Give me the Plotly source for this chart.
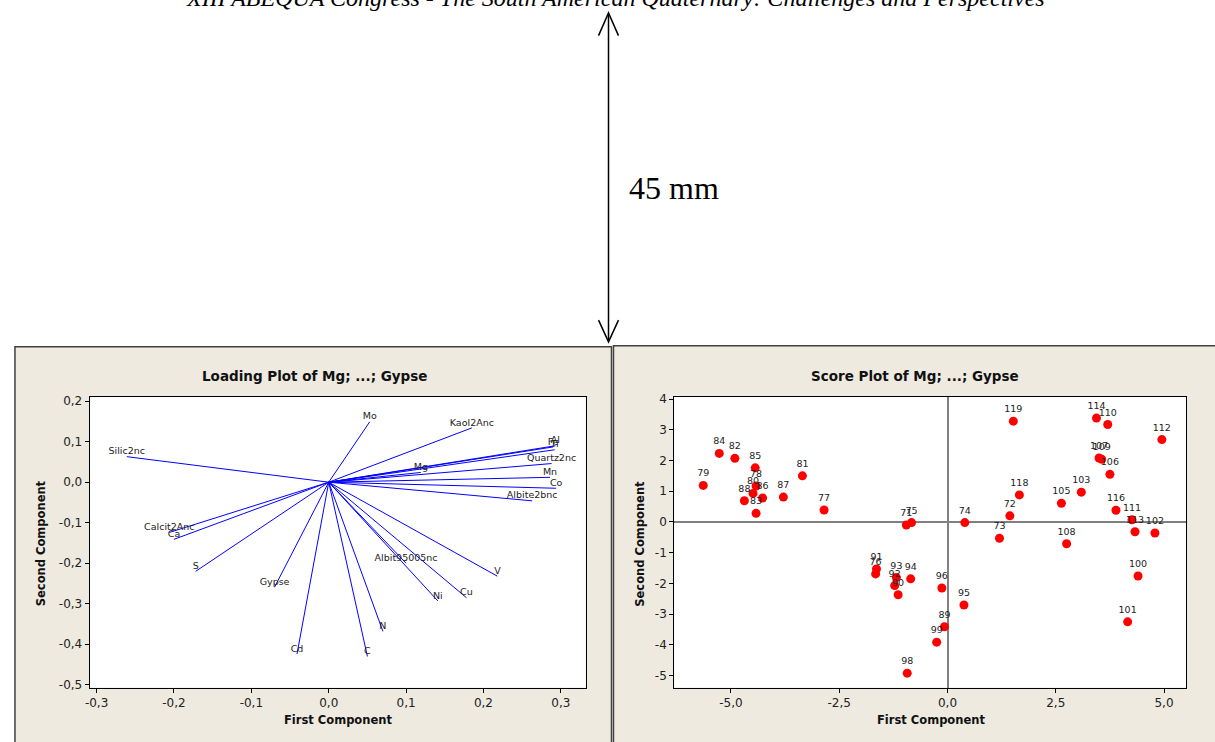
import plotly.graph_objects as go

W, H = 1215, 742

# ---------------- data ----------------
load_vars = ["Silic2nc", "Calcit2Anc", "Ca", "S", "Gypse", "Cd", "C", "N",
             "Albit95005nc", "Ni", "Cu", "V", "Mo", "Kaol2Anc", "Mg",
             "Al", "Fe", "Ti", "Quartz2nc", "Mn", "Co", "Albite2bnc"]
load_pc1 = [-0.261, -0.206, -0.200, -0.172, -0.070, -0.041, 0.050, 0.070,
            0.100, 0.141, 0.178, 0.218, 0.053, 0.185, 0.119,
            0.293, 0.290, 0.292, 0.288, 0.286, 0.294, 0.263]
load_pc2 = [0.063, -0.124, -0.141, -0.220, -0.259, -0.424, -0.430, -0.368,
            -0.200, -0.293, -0.285, -0.232, 0.149, 0.134, 0.024,
            0.090, 0.087, 0.080, 0.046, 0.012, -0.015, -0.046]

score_ids = ["84", "82", "85", "79", "81", "78", "80", "88", "86", "83", "87", "77",
             "71", "75", "74", "73", "91", "76", "93", "92", "90", "94", "96", "95",
             "89", "99", "98", "119", "114", "110", "112", "107", "109", "106",
             "118", "103", "105", "72", "116", "111", "113", "102", "108", "100", "101"]
score_pc1 = [-5.27, -4.91, -4.44, -5.64, -3.35, -4.42, -4.49, -4.69, -4.27, -4.42, -3.79, -2.85,
             -0.95, -0.83, 0.40, 1.20, -1.64, -1.66, -1.18, -1.22, -1.14, -0.85, -0.13, 0.38,
             -0.07, -0.25, -0.93, 1.52, 3.44, 3.70, 4.95, 3.50, 3.56, 3.75,
             1.66, 3.09, 2.63, 1.44, 3.89, 4.26, 4.33, 4.79, 2.75, 4.40, 4.16]
score_pc2 = [2.23, 2.07, 1.76, 1.19, 1.50, 1.17, 0.93, 0.69, 0.78, 0.28, 0.81, 0.39,
             -0.10, -0.02, -0.02, -0.53, -1.53, -1.69, -1.81, -2.07, -2.37, -1.85, -2.15, -2.70,
             -3.41, -3.91, -4.92, 3.28, 3.38, 3.17, 2.68, 2.08, 2.04, 1.55,
             0.88, 0.97, 0.61, 0.20, 0.38, 0.07, -0.32, -0.36, -0.71, -1.76, -3.25]

load_xticks = [-0.3, -0.2, -0.1, 0.0, 0.1, 0.2, 0.3]
load_xtext = ["-0,3", "-0,2", "-0,1", "0,0", "0,1", "0,2", "0,3"]
load_yticks = [0.2, 0.1, 0.0, -0.1, -0.2, -0.3, -0.4, -0.5]
load_ytext = ["0,2", "0,1", "0,0", "-0,1", "-0,2", "-0,3", "-0,4", "-0,5"]
score_xticks = [-5.0, -2.5, 0.0, 2.5, 5.0]
score_xtext = ["-5,0", "-2,5", "0,0", "2,5", "5,0"]
score_yticks = [4, 3, 2, 1, 0, -1, -2, -3, -4, -5]
score_ytext = ["4", "3", "2", "1", "0", "-1", "-2", "-3", "-4", "-5"]

caption = "XIII ABEQUA Congress - The South American Quaternary: Challenges and Perspectives"


def fx(x):
    return x / W


def fy(y):
    return 1 - y / H


FONT = "DejaVu Sans"
BEIGE = "#EEEAE0"

fig = go.Figure()

# loading vectors
lx, ly = [], []
for a, b in zip(load_pc1, load_pc2):
    lx += [0, a, None]
    ly += [0, b, None]
fig.add_trace(go.Scatter(x=lx, y=ly, mode="lines", line=dict(color="#0000FF", width=1),
                         xaxis="x", yaxis="y", hoverinfo="skip", showlegend=False))
fig.add_trace(go.Scatter(x=load_pc1, y=load_pc2, mode="text", text=load_vars,
                         textposition="top center",
                         textfont=dict(family=FONT, size=9.5, color="#222222"),
                         xaxis="x", yaxis="y", showlegend=False))

# score points
fig.add_trace(go.Scatter(x=score_pc1, y=score_pc2, mode="markers+text", text=score_ids,
                         textposition="top center",
                         marker=dict(color="#FF0000", size=9),
                         textfont=dict(family=FONT, size=9.5, color="#222222"),
                         xaxis="x2", yaxis="y2", showlegend=False))

ax_common = dict(showgrid=False, ticks="outside", ticklen=4, tickcolor="#000000",
                 showline=True, mirror=True, linecolor="#000000", linewidth=1,
                 tickfont=dict(family=FONT, size=12, color="#222222"), tickmode="array")

shapes = [
    # panel backgrounds
    dict(type="rect", xref="paper", yref="paper", x0=fx(10), x1=fx(609), y0=fy(760), y1=fy(346),
         fillcolor=BEIGE, line=dict(color="#404040", width=1.5), layer="below"),
    dict(type="rect", xref="paper", yref="paper", x0=fx(611), x1=fx(1230), y0=fy(760), y1=fy(345),
         fillcolor=BEIGE, line=dict(color="#404040", width=1.5), layer="below"),
    # plot area whites
    dict(type="rect", xref="paper", yref="paper", x0=fx(85), x1=fx(583), y0=fy(691), y1=fy(397),
         fillcolor="white", line=dict(width=0), layer="below"),
    dict(type="rect", xref="paper", yref="paper", x0=fx(672), x1=fx(1186), y0=fy(691), y1=fy(397),
         fillcolor="white", line=dict(width=0), layer="below"),
    # double arrow
    dict(type="line", xref="paper", yref="paper", x0=fx(606), x1=fx(606), y0=fy(9), y1=fy(340),
         line=dict(color="black", width=1.5)),
    dict(type="path", xref="paper", yref="paper",
         path=f"M {fx(596)} {fy(31)} L {fx(606)} {fy(8)} L {fx(616)} {fy(31)}",
         line=dict(color="black", width=1.5)),
    dict(type="path", xref="paper", yref="paper",
         path=f"M {fx(596)} {fy(319)} L {fx(606)} {fy(341)} L {fx(616)} {fy(319)}",
         line=dict(color="black", width=1.5)),
]

annotations = [
    dict(text=caption, xref="paper", yref="paper", x=fx(613), y=fy(8), xanchor="center",
         yanchor="bottom", showarrow=False,
         font=dict(family="Liberation Serif", size=24, color="black", style="italic")),
    dict(text="45 mm", xref="paper", yref="paper", x=fx(672), y=fy(185), xanchor="center",
         yanchor="middle", showarrow=False,
         font=dict(family="Liberation Serif", size=32, color="black")),
    dict(text="Loading Plot of Mg; ...; Gypse", xref="paper", yref="paper", x=fx(311), y=fy(376),
         xanchor="center", yanchor="middle", showarrow=False,
         font=dict(family=FONT, size=13.5, color="#111111", weight="bold")),
    dict(text="Score Plot of Mg; ...; Gypse", xref="paper", yref="paper", x=fx(914), y=fy(376),
         xanchor="center", yanchor="middle", showarrow=False,
         font=dict(family=FONT, size=13.5, color="#111111", weight="bold")),
    dict(text="First Component", xref="paper", yref="paper", x=fx(334), y=fy(724),
         xanchor="center", yanchor="middle", showarrow=False,
         font=dict(family=FONT, size=11.5, color="#111111", weight="bold")),
    dict(text="First Component", xref="paper", yref="paper", x=fx(930), y=fy(724),
         xanchor="center", yanchor="middle", showarrow=False,
         font=dict(family=FONT, size=11.5, color="#111111", weight="bold")),
    dict(text="Second Component", xref="paper", yref="paper", x=fx(37), y=fy(545),
         xanchor="center", yanchor="middle", showarrow=False, textangle=-90,
         font=dict(family=FONT, size=11.5, color="#111111", weight="bold")),
    dict(text="Second Component", xref="paper", yref="paper", x=fx(638), y=fy(545),
         xanchor="center", yanchor="middle", showarrow=False, textangle=-90,
         font=dict(family=FONT, size=11.5, color="#111111", weight="bold")),
]

fig.update_layout(
    width=W, height=H, margin=dict(l=0, r=0, t=0, b=0),
    paper_bgcolor="white", plot_bgcolor="white", showlegend=False,
    xaxis=dict(domain=[fx(85), fx(583)], range=[-0.309, 0.332], anchor="y",
               tickvals=load_xticks, ticktext=load_xtext, zeroline=False, **ax_common),
    yaxis=dict(domain=[fy(691), fy(397)], range=[-0.507, 0.2098], anchor="x",
               tickvals=load_yticks, ticktext=load_ytext, zeroline=False, **ax_common),
    xaxis2=dict(domain=[fx(672), fx(1186)], range=[-6.31, 5.51], anchor="y2",
                tickvals=score_xticks, ticktext=score_xtext,
                zeroline=True, zerolinecolor="#808080", zerolinewidth=2, **ax_common),
    yaxis2=dict(domain=[fy(691), fy(397)], range=[-5.39, 4.06], anchor="x2",
                tickvals=score_yticks, ticktext=score_ytext,
                zeroline=True, zerolinecolor="#808080", zerolinewidth=2, **ax_common),
    shapes=shapes, annotations=annotations,
)

fig.write_html("out.html", config={"displayModeBar": False},
               post_script="document.body.style.margin='0';document.body.style.overflow='hidden';")
